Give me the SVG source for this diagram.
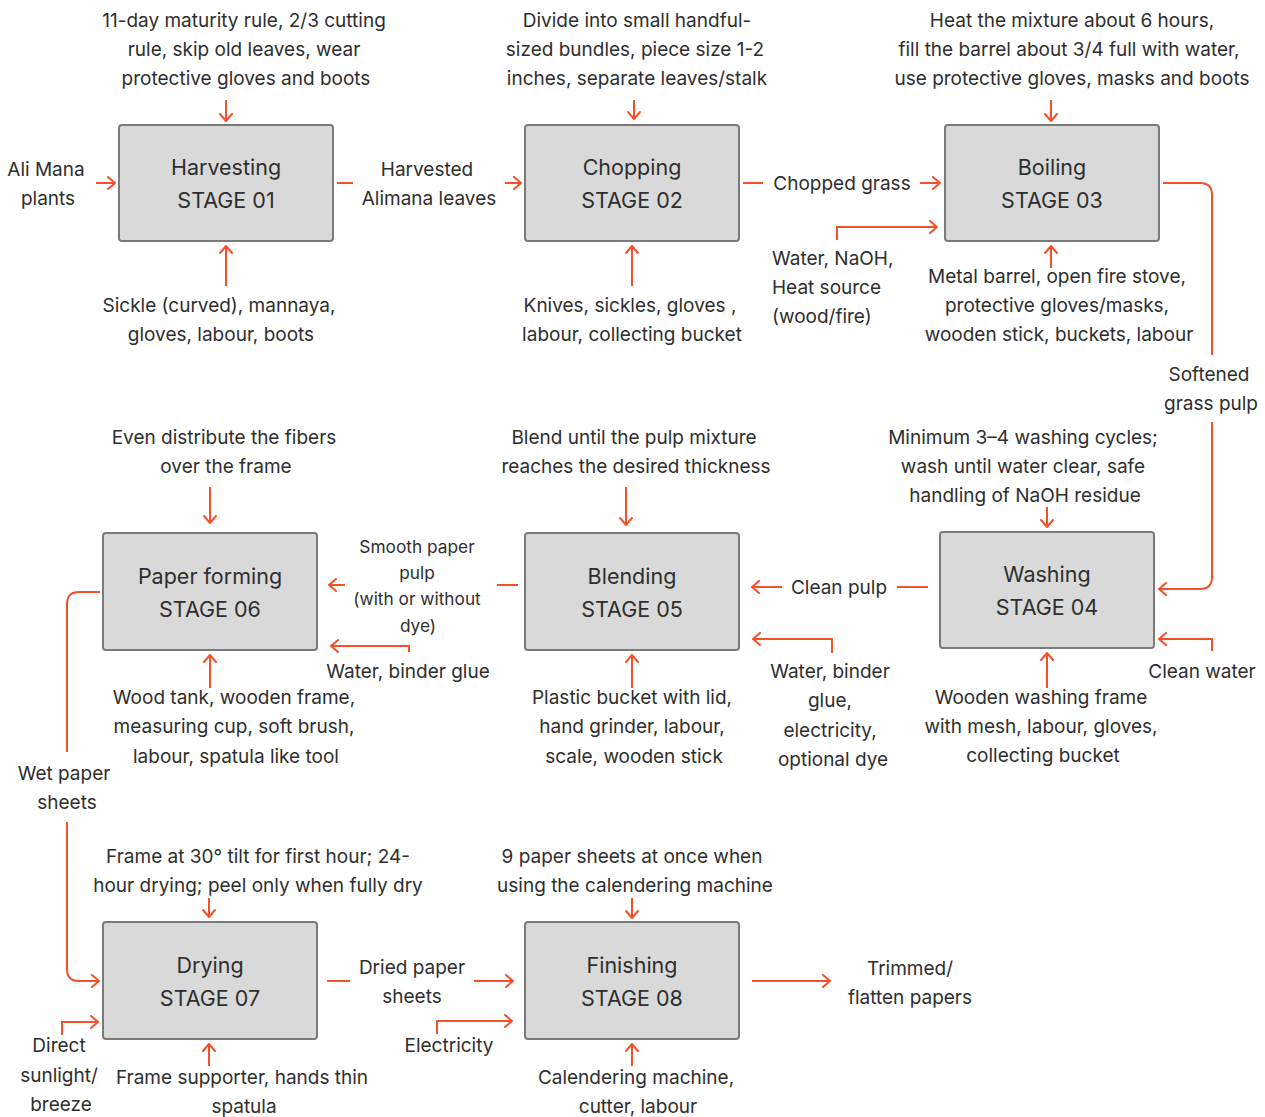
<svg xmlns="http://www.w3.org/2000/svg" width="1265" height="1117" viewBox="0 0 1265 1117">
<defs>
<marker id="ah" viewBox="0 0 14 14" refX="10" refY="7" markerWidth="14" markerHeight="14" markerUnits="userSpaceOnUse" orient="auto">
<path d="M3,1 L10,7 L3,13" fill="none" stroke="#f4502a" stroke-width="2" stroke-linecap="round" stroke-linejoin="round"/>
</marker>
<style>
.box{fill:#d9d9d9;stroke:#7a7a7a;stroke-width:2}
.bt{font-family:Inter,"Noto Sans",sans-serif;font-size:21.5px;fill:#2e2e2e;text-anchor:middle;dominant-baseline:central}
.t{font-family:Inter,"Noto Sans",sans-serif;font-size:19px;fill:#2e2e2e;text-anchor:middle;dominant-baseline:central}
.ts{font-family:Inter,"Noto Sans",sans-serif;font-size:17.3px;fill:#2e2e2e;text-anchor:middle;dominant-baseline:central}
.tl{text-anchor:start}
.c{fill:none;stroke:#f4502a;stroke-width:2}
.a{fill:none;stroke:#f4502a;stroke-width:2;marker-end:url(#ah)}
</style>
</defs>
<rect width="1265" height="1117" fill="#fff"/>

<g id="stage01"><rect class="box" x="119" y="125" width="214" height="116" rx="3"/><text class="bt" x="226" y="167">Harvesting</text><text class="bt" x="226" y="200">STAGE 01</text></g>
<g id="stage02"><rect class="box" x="525" y="125" width="214" height="116" rx="3"/><text class="bt" x="632" y="167">Chopping</text><text class="bt" x="632" y="200">STAGE 02</text></g>
<g id="stage03"><rect class="box" x="945" y="125" width="214" height="116" rx="3"/><text class="bt" x="1052" y="167">Boiling</text><text class="bt" x="1052" y="200">STAGE 03</text></g>
<g id="stage04"><rect class="box" x="940" y="532" width="214" height="116" rx="3"/><text class="bt" x="1047" y="574">Washing</text><text class="bt" x="1047" y="607">STAGE 04</text></g>
<g id="stage05"><rect class="box" x="525" y="533" width="214" height="117" rx="3"/><text class="bt" x="632" y="576">Blending</text><text class="bt" x="632" y="609">STAGE 05</text></g>
<g id="stage06"><rect class="box" x="103" y="533" width="214" height="117" rx="3"/><text class="bt" x="210" y="576">Paper forming</text><text class="bt" x="210" y="609">STAGE 06</text></g>
<g id="stage07"><rect class="box" x="103" y="922" width="214" height="117" rx="3"/><text class="bt" x="210" y="965">Drying</text><text class="bt" x="210" y="998">STAGE 07</text></g>
<g id="stage08"><rect class="box" x="525" y="922" width="214" height="117" rx="3"/><text class="bt" x="632" y="965">Finishing</text><text class="bt" x="632" y="998">STAGE 08</text></g>

<g id="connectors">
<line class="a" x1="226" y1="100" x2="226" y2="121"/>
<line class="a" x1="226" y1="286" x2="226" y2="246"/>
<line class="a" x1="96" y1="183" x2="115" y2="183"/>
<line class="c" x1="337" y1="183" x2="353" y2="183"/>
<line class="a" x1="505" y1="183" x2="521" y2="183"/>
<line class="a" x1="634" y1="100" x2="634" y2="119"/>
<line class="a" x1="632" y1="286" x2="632" y2="246"/>
<line class="c" x1="743" y1="183" x2="763" y2="183"/>
<line class="a" x1="920" y1="183" x2="940" y2="183"/>
<path class="a" d="M837,240 V227 H937"/>
<line class="a" x1="1051" y1="100" x2="1051" y2="121"/>
<line class="a" x1="1051" y1="268" x2="1051" y2="246"/>
<path class="c" d="M1163,183 H1200 Q1212,183 1212,195 V355"/>
<path class="a" d="M1212,422 V577 Q1212,589 1200,589 H1159"/>
<line class="a" x1="1047" y1="507" x2="1047" y2="527"/>
<line class="a" x1="1047" y1="688" x2="1047" y2="653"/>
<path class="a" d="M1212,651 V639 H1159"/>
<line class="c" x1="897" y1="587" x2="928" y2="587"/>
<line class="a" x1="782" y1="587" x2="752" y2="587"/>
<path class="a" d="M832,653 V639 H753"/>
<line class="a" x1="626" y1="487" x2="626" y2="525"/>
<line class="a" x1="632" y1="688" x2="632" y2="655"/>
<line class="c" x1="497" y1="585" x2="518" y2="585"/>
<line class="a" x1="345" y1="585" x2="329" y2="585"/>
<path class="a" d="M409,652 V646 H331"/>
<line class="a" x1="210" y1="487" x2="210" y2="523"/>
<line class="a" x1="210" y1="688" x2="210" y2="655"/>
<path class="c" d="M100,592 H79 Q67,592 67,604 V752"/>
<path class="a" d="M67,822 V969 Q67,981 79,981 H99"/>
<line class="a" x1="209" y1="898" x2="209" y2="917"/>
<path class="a" d="M62,1035 V1022 H98"/>
<line class="a" x1="209" y1="1066" x2="209" y2="1044"/>
<line class="c" x1="327" y1="981" x2="350" y2="981"/>
<line class="a" x1="474" y1="981" x2="513" y2="981"/>
<path class="a" d="M437,1034 V1021 H512"/>
<line class="a" x1="632" y1="898" x2="632" y2="918"/>
<line class="a" x1="632" y1="1066" x2="632" y2="1044"/>
<line class="a" x1="752" y1="981" x2="830" y2="981"/>
</g>

<g id="labels">
<text class="t" x="244" y="20">11-day maturity rule, 2/3 cutting</text>
<text class="t" x="244" y="49">rule, skip old leaves, wear</text>
<text class="t" x="246" y="78">protective gloves and boots</text>
<text class="t" x="219" y="305">Sickle (curved), mannaya,</text>
<text class="t" x="221" y="334">gloves, labour, boots</text>
<text class="t" x="46" y="169">Ali Mana</text>
<text class="t" x="48" y="198">plants</text>
<text class="t" x="427" y="169">Harvested</text>
<text class="t" x="429" y="198">Alimana leaves</text>

<text class="t" x="637" y="20">Divide into small handful-</text>
<text class="t" x="635" y="49">sized bundles, piece size 1-2</text>
<text class="t" x="637" y="78">inches, separate leaves/stalk</text>
<text class="t" x="630" y="305">Knives, sickles, gloves ,</text>
<text class="t" x="632" y="334">labour, collecting bucket</text>
<text class="t" x="842" y="183">Chopped grass</text>
<text class="t tl" x="772" y="258">Water, NaOH,</text>
<text class="t tl" x="772" y="287">Heat source</text>
<text class="t tl" x="772" y="316">(wood/fire)</text>

<text class="t" x="1072" y="20">Heat the mixture about 6 hours,</text>
<text class="t" x="1069" y="49">fill the barrel about 3/4 full with water,</text>
<text class="t" x="1072" y="78">use protective gloves, masks and boots</text>
<text class="t" x="1057" y="276">Metal barrel, open fire stove,</text>
<text class="t" x="1057" y="305">protective gloves/masks,</text>
<text class="t" x="1059" y="334">wooden stick, buckets, labour</text>
<text class="t" x="1209" y="374">Softened</text>
<text class="t" x="1211" y="403">grass pulp</text>

<text class="t" x="1023" y="437">Minimum 3–4 washing cycles;</text>
<text class="t" x="1023" y="466">wash until water clear, safe</text>
<text class="t" x="1025" y="495">handling of NaOH residue</text>
<text class="t" x="1202" y="671">Clean water</text>
<text class="t" x="1041" y="697">Wooden washing frame</text>
<text class="t" x="1041" y="726">with mesh, labour, gloves,</text>
<text class="t" x="1043" y="755">collecting bucket</text>
<text class="t" x="839" y="587">Clean pulp</text>

<text class="t" x="830" y="671">Water, binder</text>
<text class="t" x="830" y="700">glue,</text>
<text class="t" x="830" y="730">electricity,</text>
<text class="t" x="833" y="759">optional dye</text>
<text class="t" x="634" y="437">Blend until the pulp mixture</text>
<text class="t" x="636" y="466">reaches the desired thickness</text>
<text class="t" x="632" y="697">Plastic bucket with lid,</text>
<text class="t" x="632" y="726">hand grinder, labour,</text>
<text class="t" x="634" y="756">scale, wooden stick</text>
<text class="ts" x="417" y="546">Smooth paper</text>
<text class="ts" x="417" y="572">pulp</text>
<text class="ts" x="417" y="598">(with or without</text>
<text class="ts" x="418" y="625">dye)</text>

<text class="t" x="408" y="671">Water, binder glue</text>
<text class="t" x="224" y="437">Even distribute the fibers</text>
<text class="t" x="226" y="466">over the frame</text>
<text class="t" x="234" y="697">Wood tank, wooden frame,</text>
<text class="t" x="234" y="726">measuring cup, soft brush,</text>
<text class="t" x="236" y="756">labour, spatula like tool</text>
<text class="t" x="64" y="773">Wet paper</text>
<text class="t" x="67" y="802">sheets</text>

<text class="t" x="258" y="856">Frame at 30° tilt for first hour; 24-</text>
<text class="t" x="258" y="885">hour drying; peel only when fully dry</text>
<text class="t" x="59" y="1045">Direct</text>
<text class="t" x="59" y="1075">sunlight/</text>
<text class="t" x="61" y="1104">breeze</text>
<text class="t" x="242" y="1077">Frame supporter, hands thin</text>
<text class="t" x="244" y="1106">spatula</text>
<text class="t" x="412" y="967">Dried paper</text>
<text class="t" x="412" y="996">sheets</text>
<text class="t" x="449" y="1045">Electricity</text>

<text class="t" x="632" y="856">9 paper sheets at once when</text>
<text class="t" x="635" y="885">using the calendering machine</text>
<text class="t" x="636" y="1077">Calendering machine,</text>
<text class="t" x="638" y="1106">cutter, labour</text>
<text class="t" x="910" y="968">Trimmed/</text>
<text class="t" x="910" y="997">flatten papers</text>
</g>
</svg>
